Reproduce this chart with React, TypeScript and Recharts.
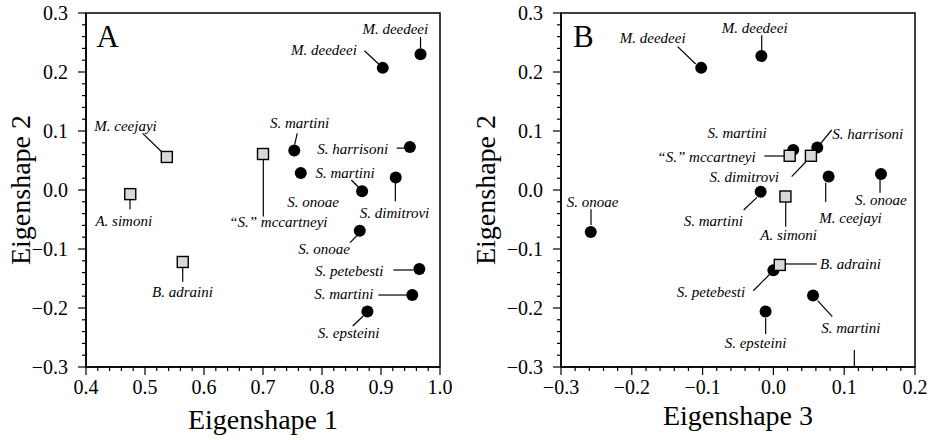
import { ScatterChart, Scatter, XAxis, YAxis, ReferenceLine, ReferenceArea } from "recharts"

const serif = "Liberation Serif"

// Panel A: eigenshape 1 vs eigenshape 2
const circlesA = [
  { name: "M. deedeei", x: 0.967, y: 0.23 },
  { name: "M. deedeei", x: 0.903, y: 0.207 },
  { name: "S. martini", x: 0.753, y: 0.067 },
  { name: "S. onoae", x: 0.764, y: 0.029 },
  { name: "S. harrisoni", x: 0.949, y: 0.073 },
  { name: "S. martini", x: 0.868, y: -0.002 },
  { name: "S. dimitrovi", x: 0.925, y: 0.021 },
  { name: "S. onoae", x: 0.864, y: -0.069 },
  { name: "S. petebesti", x: 0.965, y: -0.134 },
  { name: "S. martini", x: 0.953, y: -0.178 },
  { name: "S. epsteini", x: 0.877, y: -0.206 },
]
const squaresA = [
  { name: "M. ceejayi", x: 0.537, y: 0.056 },
  { name: "A. simoni", x: 0.475, y: -0.007 },
  { name: "\u201cS.\u201d mccartneyi", x: 0.7, y: 0.061 },
  { name: "B. adraini", x: 0.564, y: -0.122 },
]
const labelsA = [
  { text: "M. deedeei", x: 0.98, y: 0.273, anchor: "end" },
  { text: "M. deedeei", x: 0.859, y: 0.237, anchor: "end" },
  { text: "M. ceejayi", x: 0.467, y: 0.1085, anchor: "middle" },
  { text: "A. simoni", x: 0.464, y: -0.0525, anchor: "middle" },
  { text: "\u201cS.\u201d mccartneyi", x: 0.726, y: -0.054, anchor: "middle" },
  { text: "S. martini", x: 0.762, y: 0.114, anchor: "middle" },
  { text: "S. harrisoni", x: 0.912, y: 0.07, anchor: "end" },
  { text: "S. martini", x: 0.789, y: 0.0293, anchor: "start" },
  { text: "S. onoae", x: 0.785, y: -0.0203, anchor: "middle" },
  { text: "S. dimitrovi", x: 0.923, y: -0.0385, anchor: "middle" },
  { text: "S. onoae", x: 0.8036, y: -0.1005, anchor: "middle" },
  { text: "B. adraini", x: 0.5636, y: -0.1723, anchor: "middle" },
  { text: "S. petebesti", x: 0.904, y: -0.1368, anchor: "end" },
  { text: "S. martini", x: 0.887, y: -0.1763, anchor: "end" },
  { text: "S. epsteini", x: 0.845, y: -0.243, anchor: "middle" },
]
// leader lines: x1, y1, x2, y2
const leadersA = [
  [0.967, 0.259, 0.967, 0.24],
  [0.872, 0.236, 0.896, 0.2136],
  [0.496, 0.096, 0.53, 0.0632],
  [0.4746, -0.0158, 0.4746, -0.0327],
  [0.7005, 0.052, 0.7005, -0.045],
  [0.758, 0.096, 0.7537, 0.0768],
  [0.9266, 0.071, 0.9407, 0.071],
  [0.8497, 0.017, 0.862, 0.0046],
  [0.9243, 0.0124, 0.9243, -0.019],
  [0.8475, -0.0893, 0.8599, -0.0768],
  [0.5639, -0.131, 0.5639, -0.1554],
  [0.921, -0.1356, 0.955, -0.1356],
  [0.8955, -0.178, 0.9436, -0.178],
  [0.852, -0.2305, 0.87, -0.2136],
]

// Panel B: eigenshape 3 vs eigenshape 2
const circlesB = [
  { name: "M. deedeei", x: -0.102, y: 0.207 },
  { name: "M. deedeei", x: -0.017, y: 0.227 },
  { name: "S. martini", x: 0.028, y: 0.068 },
  { name: "S. harrisoni", x: 0.062, y: 0.072 },
  { name: "M. ceejayi", x: 0.078, y: 0.023 },
  { name: "S. onoae", x: 0.152, y: 0.027 },
  { name: "S. martini", x: -0.018, y: -0.003 },
  { name: "S. onoae", x: -0.258, y: -0.071 },
  { name: "S. petebesti", x: 0.0, y: -0.136 },
  { name: "S. epsteini", x: -0.011, y: -0.206 },
  { name: "S. martini", x: 0.056, y: -0.179 },
]
const squaresB = [
  { name: "\u201cS.\u201d mccartneyi", x: 0.023, y: 0.058 },
  { name: "S. dimitrovi", x: 0.053, y: 0.058 },
  { name: "A. simoni", x: 0.017, y: -0.011 },
  { name: "B. adraini", x: 0.009, y: -0.127 },
]
const labelsB = [
  { text: "M. deedeei", x: -0.1705, y: 0.258, anchor: "middle" },
  { text: "M. deedeei", x: -0.0264, y: 0.274, anchor: "middle" },
  { text: "S. martini", x: -0.0514, y: 0.0972, anchor: "middle" },
  { text: "S. harrisoni", x: 0.0832, y: 0.095, anchor: "start" },
  { text: "\u201cS.\u201d mccartneyi", x: -0.025, y: 0.0565, anchor: "end" },
  { text: "S. dimitrovi", x: -0.0411, y: 0.0226, anchor: "middle" },
  { text: "M. ceejayi", x: 0.1089, y: -0.0475, anchor: "middle" },
  { text: "S. onoae", x: 0.1517, y: -0.0169, anchor: "middle" },
  { text: "S. martini", x: -0.0849, y: -0.0525, anchor: "middle" },
  { text: "A. simoni", x: 0.0216, y: -0.0763, anchor: "middle" },
  { text: "S. onoae", x: -0.2555, y: -0.0198, anchor: "middle" },
  { text: "B. adraini", x: 0.0658, y: -0.1254, anchor: "start" },
  { text: "S. petebesti", x: -0.04, y: -0.1723, anchor: "end" },
  { text: "S. epsteini", x: -0.0253, y: -0.2588, anchor: "middle" },
  { text: "S. martini", x: 0.1094, y: -0.2344, anchor: "middle" },
]
const leadersB = [
  [-0.1352, 0.243, -0.1098, 0.2136],
  [-0.0165, 0.2622, -0.0165, 0.2361],
  [0.0823, 0.1017, 0.0654, 0.0768],
  [-0.0128, 0.0576, 0.0154, 0.0576],
  [0.0258, 0.0226, 0.0456, 0.0475],
  [0.0739, 0.0124, 0.0739, -0.0203],
  [0.1506, 0.0181, 0.1506, -0.0046],
  [-0.042, -0.0339, -0.0232, -0.0124],
  [0.0174, -0.0203, 0.0174, -0.0622],
  [-0.2576, -0.0327, -0.2576, -0.0593],
  [0.0164, -0.1254, 0.0612, -0.1254],
  [-0.0284, -0.1707, -0.0048, -0.1424],
  [-0.0109, -0.2175, -0.0109, -0.2441],
  [0.0626, -0.1876, 0.0832, -0.2147],
  [0.1143, -0.2712, 0.1143, -0.3],
]

const xMajorA = [0.4, 0.5, 0.6, 0.7, 0.8, 0.9, 1.0]
const xMajorB = [-0.3, -0.2, -0.1, 0, 0.1, 0.2]
const yMajor = [-0.3, -0.2, -0.1, 0, 0.1, 0.2, 0.3]

// four minor ticks between majors
function withMinor(major: number[]) {
  const out: number[] = []
  major.forEach((v, i) => {
    out.push(v)
    if (i < major.length - 1) {
      const step = (major[i + 1] - v) / 5
      for (let k = 1; k < 5; k++) out.push(+(v + step * k).toFixed(4))
    }
  })
  return out
}

const fmt = (v: number) => (v < -1e-9 ? "\u2212" : "") + Math.abs(v).toFixed(1)
const isMajor = (majors: number[], v: number) => majors.some((m) => Math.abs(m - v) < 1e-6)

function BottomTick(props: any) {
  const { x, y, payload, majors } = props
  const major = isMajor(majors, payload.value)
  return (
    <g>
      <line x1={x} x2={x} y1={y} y2={y + (major ? 8 : 4)} stroke="#000" strokeWidth={1.2} />
      {major && (
        <text x={x} y={y + 20} dy="0.35em" textAnchor="middle" fill="#000" fontSize={20} fontFamily={serif}>
          {fmt(payload.value)}
        </text>
      )}
    </g>
  )
}

function LeftTick(props: any) {
  const { x, y, payload, majors } = props
  const major = isMajor(majors, payload.value)
  return (
    <g>
      <line x1={x - (major ? 8 : 4)} x2={x} y1={y} y2={y} stroke="#000" strokeWidth={1.2} />
      {major && (
        <text x={x - 18} y={y} dy="0.35em" textAnchor="end" fill="#000" fontSize={20} fontFamily={serif}>
          {fmt(payload.value)}
        </text>
      )}
    </g>
  )
}

const Dot = (p: any) => <circle cx={p.cx} cy={p.cy} r={6} fill="#000" />
const Box = (p: any) => (
  <rect x={p.cx - 5.5} y={p.cy - 5.5} width={11} height={11} fill="#d9d9d9" stroke="#000" strokeWidth={1.4} />
)
const Name = (p: any) => (
  <text
    x={p.cx}
    y={p.cy}
    dy="0.33em"
    textAnchor={p.payload.anchor}
    fill="#000"
    fontSize={15}
    fontStyle="italic"
    fontFamily={serif}
  >
    {p.payload.text}
  </text>
)
const Letter = (p: any) => (
  <text x={p.cx} y={p.cy} dy="0.33em" textAnchor="start" fill="#000" fontSize={31} fontFamily={serif}>
    {p.payload.text}
  </text>
)

type PanelProps = {
  width: number
  margin: { top: number; right: number; bottom: number; left: number }
  xDomain: [number, number]
  xMajor: number[]
  xTitle: string
  xTitleOffset: number
  yTitleOffset: number
  circles: any[]
  squares: any[]
  labels: any[]
  leaders: number[][]
  letter: any[]
}

function Panel(p: PanelProps) {
  const [x0, x1] = p.xDomain
  return (
    <ScatterChart width={p.width} height={440} margin={p.margin}>
      <XAxis
        type="number"
        dataKey="x"
        domain={p.xDomain}
        ticks={withMinor(p.xMajor)}
        interval={0}
        height={73}
        tickSize={0}
        tickMargin={0}
        tickLine={false}
        axisLine={{ stroke: "#000", strokeWidth: 1.5 }}
        tick={(t: any) => <BottomTick {...t} majors={p.xMajor} />}
        label={{
          value: p.xTitle,
          position: "insideBottom",
          offset: p.xTitleOffset,
          fontSize: 28,
          fontFamily: serif,
          fill: "#000",
        }}
      />
      <YAxis
        type="number"
        dataKey="y"
        domain={[-0.3, 0.3]}
        ticks={withMinor(yMajor)}
        interval={0}
        width={60}
        tickSize={0}
        tickMargin={0}
        tickLine={false}
        axisLine={{ stroke: "#000", strokeWidth: 1.5 }}
        tick={(t: any) => <LeftTick {...t} majors={yMajor} />}
        label={{
          value: "Eigenshape 2",
          angle: -90,
          position: "insideLeft",
          offset: p.yTitleOffset,
          fontSize: 28,
          fontFamily: serif,
          fill: "#000",
          style: { textAnchor: "middle" },
        }}
      />
      <ReferenceArea x1={x0} x2={x1} y1={-0.3} y2={0.3} fill="none" stroke="#000" strokeWidth={1.5} fillOpacity={0} />
      {p.leaders.map((l, i) => (
        <ReferenceLine
          key={i}
          segment={[
            { x: l[0], y: l[1] },
            { x: l[2], y: l[3] },
          ]}
          stroke="#000"
          strokeWidth={1.2}
          ifOverflow="visible"
        />
      ))}
      <Scatter data={p.circles} shape={Dot} isAnimationActive={false} />
      <Scatter data={p.squares} shape={Box} isAnimationActive={false} />
      <Scatter data={p.labels} shape={Name} isAnimationActive={false} />
      <Scatter data={p.letter} shape={Letter} isAnimationActive={false} />
    </ScatterChart>
  )
}

export default function App() {
  return (
    <div style={{ position: "absolute", left: 0, top: 0, width: 935, height: 440, display: "flex", background: "#fff" }}>
      <Panel
        width={467}
        margin={{ top: 13, right: 27, bottom: 0, left: 26 }}
        xDomain={[0.4, 1.0]}
        xMajor={xMajorA}
        xTitle="Eigenshape 1"
        xTitleOffset={11}
        yTitleOffset={-6}
        circles={circlesA}
        squares={squaresA}
        labels={labelsA}
        leaders={leadersA}
        letter={[{ text: "A", x: 0.418, y: 0.26 }]}
      />
      <Panel
        width={468}
        margin={{ top: 13, right: 20, bottom: 0, left: 34 }}
        xDomain={[-0.3, 0.2]}
        xMajor={xMajorB}
        xTitle="Eigenshape 3"
        xTitleOffset={15}
        yTitleOffset={-16}
        circles={circlesB}
        squares={squaresB}
        labels={labelsB}
        leaders={leadersB}
        letter={[{ text: "B", x: -0.283, y: 0.26 }]}
      />
    </div>
  )
}
